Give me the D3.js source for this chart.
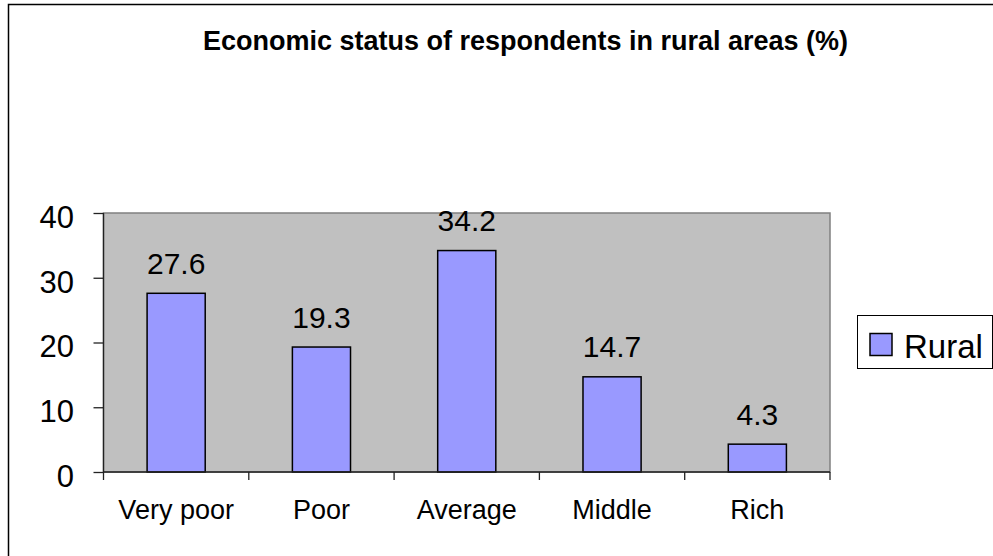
<!DOCTYPE html>
<html>
<head>
<meta charset="utf-8">
<style>
    body {
        margin: 0;
        background: #fff;
    }
    text {
        font-family: "Liberation Sans", Arial, sans-serif;
        fill: #000;
    }
    .title {
        font-size: 27px;
        font-weight: bold;
    }
    .axis path {
        display: none;
    }
    .axis line {
        stroke: #222;
        stroke-width: 1.3px;
    }
    .axis--y text {
        font-size: 31px;
    }
    .axis--x text {
        font-size: 27px;
    }
    .label {
        font-size: 30px;
    }
    .bar {
        fill: #9999ff;
        stroke: #000;
        stroke-width: 1.5px;
    }
</style>
</head>
<body>
<div id="chart"></div>
<script src="https://cdn.jsdelivr.net/npm/d3@7"></script>
<script>

    // data
    const categories = ["Very poor", "Poor", "Average", "Middle", "Rich"];
    const rural = [27.6, 19.3, 34.2, 14.7, 4.3];
    const yTicks = [0, 10, 20, 30, 40];
    const seriesName = "Rural";
    const titleText = "Economic status of respondents in rural areas (%)";

    const widthValue = 993;
    const heightValue = 556;

    const svg = d3.select("#chart")
        .append("svg")
        .attr("width", widthValue)
        .attr("height", heightValue);

    // chart frame (runs off the right and bottom edge like the original)
    svg.append("rect")
        .attr("x", 8.5)
        .attr("y", 4.5)
        .attr("width", 1000)
        .attr("height", 600)
        .attr("fill", "none")
        .attr("stroke", "#000")
        .attr("stroke-width", 1.5);

    svg.append("text")
        .attr("class", "title")
        .attr("x", 525.5)
        .attr("y", 50)
        .attr("text-anchor", "middle")
        .text(titleText);

    const plot = { left: 103.5, right: 830, top: 213, bottom: 472 };

    const x = d3.scaleBand()
        .domain(categories)
        .range([plot.left, plot.right])
        .padding(0);

    const y = d3.scaleLinear()
        .domain([0, 40])
        .range([plot.bottom, plot.top]);

    const barW = x.bandwidth() / 2.5;

    // plot area background
    svg.append("rect")
        .attr("x", plot.left)
        .attr("y", plot.top)
        .attr("width", plot.right - plot.left)
        .attr("height", plot.bottom - plot.top)
        .attr("fill", "#c0c0c0")
        .attr("stroke", "#808080")
        .attr("stroke-width", 1.5);

    // bars
    const data = categories.map(function (c, i) { return { cat: c, value: rural[i] }; });

    svg.selectAll(".bar")
        .data(data)
        .enter().append("rect")
        .attr("class", "bar")
        .attr("x", function (d) { return x(d.cat) + (x.bandwidth() - barW) / 2; })
        .attr("y", function (d) { return y(d.value); })
        .attr("width", barW)
        .attr("height", function (d) { return y(0) - y(d.value); });

    svg.selectAll(".label")
        .data(data)
        .enter().append("text")
        .attr("class", "label")
        .attr("x", function (d) { return x(d.cat) + x.bandwidth() / 2; })
        .attr("y", function (d) { return y(d.value) - 19.5; })
        .attr("text-anchor", "middle")
        .text(function (d) { return d.value.toFixed(1); });

    // y axis
    svg.append("g")
        .attr("class", "axis axis--y")
        .attr("transform", "translate(" + plot.left + ",0)")
        .call(d3.axisLeft(y).tickValues(yTicks).tickSize(10).tickPadding(19.5))
        .selectAll("text")
        .attr("dy", "0.46em");

    svg.append("line")
        .attr("x1", plot.left).attr("x2", plot.left)
        .attr("y1", plot.top).attr("y2", plot.bottom)
        .attr("stroke", "#222").attr("stroke-width", 1.3);

    // x axis: labels in the middle of each band, ticks on band edges
    svg.append("g")
        .attr("class", "axis axis--x")
        .attr("transform", "translate(0," + plot.bottom + ")")
        .call(d3.axisBottom(x).tickSize(0).tickPadding(28));

    const edges = categories.map(function (c) { return x(c); }).concat([x.range()[1]]);
    svg.selectAll(".xtick")
        .data(edges)
        .enter().append("line")
        .attr("class", "xtick")
        .attr("x1", function (d) { return d; })
        .attr("x2", function (d) { return d; })
        .attr("y1", plot.bottom)
        .attr("y2", plot.bottom + 8)
        .attr("stroke", "#222")
        .attr("stroke-width", 1.3);

    svg.append("line")
        .attr("x1", plot.left).attr("x2", plot.right)
        .attr("y1", plot.bottom).attr("y2", plot.bottom)
        .attr("stroke", "#222").attr("stroke-width", 1.3);

    // legend
    const legend = svg.append("g").attr("transform", "translate(857.5,315.5)");
    legend.append("rect")
        .attr("width", 135)
        .attr("height", 53)
        .attr("fill", "#fff")
        .attr("stroke", "#000")
        .attr("stroke-width", 1);
    legend.append("rect")
        .attr("class", "bar")
        .attr("x", 12.5)
        .attr("y", 18)
        .attr("width", 22)
        .attr("height", 22);
    legend.append("text")
        .attr("x", 46.5)
        .attr("y", 42.5)
        .style("font-size", "33px")
        .text(seriesName);

</script>
</body>
</html>
